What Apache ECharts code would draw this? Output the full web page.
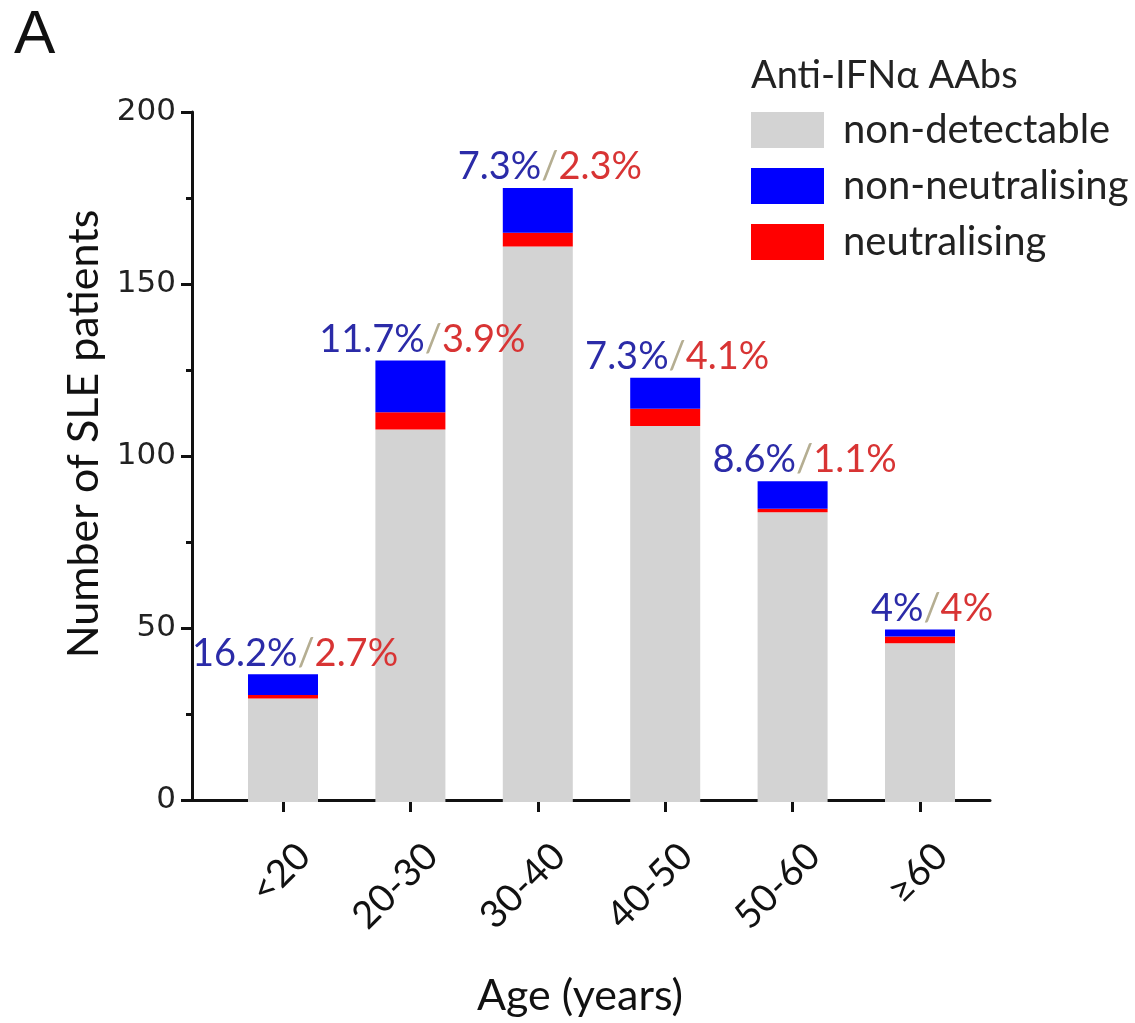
<!DOCTYPE html>
<html>
<head>
<meta charset="utf-8">
<script src="https://cdn.jsdelivr.net/npm/echarts@6/dist/echarts.min.js"></script>
<style>
  html, body { margin: 0; padding: 0; background: #fff; }
  #chart { width: 1135px; height: 1023px; }
</style>
</head>
<body>
<div id="chart"></div>
<script>
const ageGroups = ['<20', '20-30', '30-40', '40-50', '50-60', '≥60']
const nonDetectable = [30, 108, 161, 109, 84, 46]
const neutralising = [1, 5, 4, 5, 1, 2]
const nonNeutralising = [6, 15, 13, 9, 8, 2]
const nonNeutPct = ['16.2%', '11.7%', '7.3%', '7.3%', '8.6%', '4%']
const neutPct = ['2.7%', '3.9%', '2.3%', '4.1%', '1.1%', '4%']
const yTicks = [0, 50, 100, 150, 200]

const font = 'Lato, "Open Sans", sans-serif'
const idx = ageGroups.map((_, i) => i)

const chartInstance = echarts.init(document.getElementById('chart'))

const option = {
  backgroundColor: '#fff',
  animation: false,
  title: [
    {
      text: 'A',
      left: 9,
      top: 0,
      textStyle: { fontFamily: '"Liberation Sans", sans-serif', fontSize: 62, fontWeight: 'normal', color: '#111' }
    },
    {
      text: 'Anti-IFNα AAbs',
      left: 746,
      top: 52,
      textStyle: { fontFamily: font, fontSize: 38, fontWeight: 'normal', color: '#222' }
    }
  ],
  legend: {
    data: ['non-detectable', 'non-neutralising', 'neutralising'],
    orient: 'vertical',
    left: 746,
    top: 105,
    itemWidth: 73,
    itemHeight: 36,
    itemGap: 16,
    icon: 'rect',
    textStyle: { fontFamily: font, fontSize: 40, color: '#222', padding: [0, 0, 0, 14] }
  },
  // grid 0 draws the frame (axis lines, y ticks, x labels); grid 1 holds the bars
  grid: [
    { left: 192, right: 145, top: 112, bottom: 221, containLabel: false },
    { left: 219.3, right: 151.3, top: 112, bottom: 221, containLabel: false }
  ],
  xAxis: [
    {
      type: 'value',
      gridIndex: 0,
      min: -0.714,
      max: 5.549,
      name: 'Age (years)',
      nameLocation: 'middle',
      nameGap: 175,
      nameTextStyle: { fontFamily: font, fontSize: 43, color: '#111', padding: [0, 22, 0, 0] },
      splitLine: { show: false },
      axisLine: { show: true, lineStyle: { color: '#111', width: 3 } },
      axisTick: { show: false },
      axisLabel: {
        customValues: idx.map(i => i + 0.165),
        formatter: (v) => ageGroups[Math.round(v)],
        rotate: 45,
        margin: 50,
        fontFamily: font,
        fontSize: 38,
        color: '#111'
      }
    },
    {
      type: 'category',
      gridIndex: 1,
      data: ageGroups,
      axisLine: { show: false },
      axisTick: { show: true, alignWithLabel: true, length: 10, lineStyle: { color: '#111', width: 3 } },
      axisLabel: { show: false }
    }
  ],
  yAxis: [
    {
      type: 'value',
      gridIndex: 0,
      min: 0,
      max: 200,
      interval: 50,
      name: 'Number of SLE patients',
      nameLocation: 'middle',
      nameGap: 85,
      nameTextStyle: { fontFamily: font, fontSize: 43, color: '#111', padding: [0, 0, 0, 44] },
      splitLine: { show: false },
      axisLine: { show: true, onZero: false, lineStyle: { color: '#111', width: 3 } },
      axisTick: { show: true, length: 11, lineStyle: { color: '#111', width: 3 } },
      minorTick: { show: true, splitNumber: 2, length: 6, lineStyle: { color: '#111', width: 3 } },
      axisLabel: {
        customValues: yTicks,
        margin: 16,
        fontFamily: '"DejaVu Sans", sans-serif',
        fontSize: 31,
        color: '#222'
      }
    },
    {
      type: 'value',
      gridIndex: 1,
      min: 0,
      max: 200,
      show: false
    }
  ],
  series: [
    {
      name: 'non-detectable',
      type: 'bar',
      xAxisIndex: 1,
      yAxisIndex: 1,
      stack: 'total',
      barWidth: 70,
      itemStyle: { color: '#d3d3d3' },
      data: nonDetectable
    },
    {
      name: 'neutralising',
      type: 'bar',
      xAxisIndex: 1,
      yAxisIndex: 1,
      stack: 'total',
      barWidth: 70,
      itemStyle: { color: '#ff0000' },
      data: neutralising
    },
    {
      name: 'non-neutralising',
      type: 'bar',
      xAxisIndex: 1,
      yAxisIndex: 1,
      stack: 'total',
      barWidth: 70,
      itemStyle: { color: '#0000ff' },
      label: {
        show: true,
        position: 'top',
        distance: 2,
        offset: [12, 0],
        formatter: (p) => `{b|${nonNeutPct[p.dataIndex]}}{s|/}{r|${neutPct[p.dataIndex]}}`,
        rich: {
          b: { fontFamily: font, fontSize: 38, color: '#2b2ba8' },
          s: { fontFamily: font, fontSize: 38, color: '#b5ae92' },
          r: { fontFamily: font, fontSize: 38, color: '#d83434' }
        }
      },
      data: nonNeutralising
    }
  ]
}

chartInstance.setOption(option)
window.addEventListener('resize', () => chartInstance.resize())
</script>
</body>
</html>
